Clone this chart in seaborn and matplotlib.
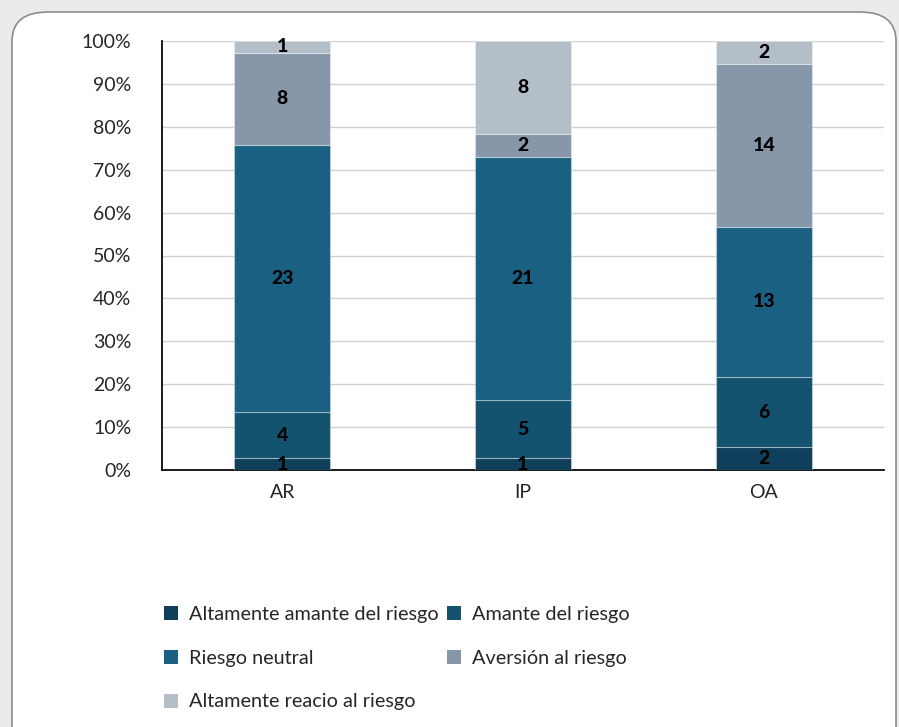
import numpy as np
import pandas as pd
import matplotlib
matplotlib.use("Agg")
import matplotlib.pyplot as plt
import seaborn as sns
from matplotlib.patches import FancyBboxPatch, Patch

categories = ["AR", "IP", "OA"]
series = ["Altamente amante del riesgo", "Amante del riesgo", "Riesgo neutral",
          "Aversión al riesgo", "Altamente reacio al riesgo"]
altamente_amante = [1, 1, 2]
amante = [4, 5, 6]
neutral = [23, 21, 13]
aversion = [8, 2, 14]
reacio = [1, 8, 2]
colors = ["#0f3f5a", "#14536f", "#1a6082", "#8597a9", "#b4bec9"]

counts = [altamente_amante, amante, neutral, aversion, reacio]
totals = np.sum(np.array(counts), axis=0)

sns.set_theme(style="white")
plt.rcParams['font.family'] = ['Lato', 'DejaVu Sans']

fig = plt.figure(figsize=(8.99, 7.27), dpi=100)
fig.patch.set_facecolor("#ebebeb")
box = FancyBboxPatch((12/899, -0.05), 884/899, 1 - 12/727 + 0.05,
                     boxstyle="round,pad=0,rounding_size=0.04",
                     transform=fig.transFigure, facecolor="white",
                     edgecolor="#8c8c8c", linewidth=1.2, zorder=-10)
fig.patches.append(box)

ax = fig.add_axes([162/899, 1 - 470/727, (884-162)/899, (470-41)/727])
ax.set_facecolor("none")

bottom = np.zeros(len(categories))
for name, vals, col in zip(series, counts, colors):
    pct = np.array(vals) / totals * 100
    df = pd.DataFrame({"cat": categories, "pct": pct})
    sns.barplot(data=df, x="cat", y="pct", color=col, bottom=bottom, width=0.4,
                ax=ax, saturation=1, edgecolor=(1, 1, 1, 0.35), linewidth=0.8,
                zorder=3)
    for i, (v, p) in enumerate(zip(vals, pct)):
        ax.text(i, bottom[i] + p / 2, str(v), ha="center", va="center",
                fontsize=14, fontweight="black", color="black", zorder=5)
    bottom = bottom + pct

ax.set_ylim(0, 100)
ax.set_xlim(-0.5, 2.5)
ax.set_yticks(np.arange(0, 101, 10))
ax.set_yticklabels([f"{t}%" for t in range(0, 101, 10)], fontsize=14)
ax.tick_params(axis="x", labelsize=14, pad=10, length=0)
ax.tick_params(axis="y", length=0, pad=22)
ax.set_xlabel("")
ax.set_ylabel("")
ax.yaxis.grid(True, color="#d0d0d0", linewidth=1, zorder=0)
ax.set_axisbelow(True)
for s in ["top", "right"]:
    ax.spines[s].set_visible(False)
ax.spines["left"].set_color("black")
ax.spines["bottom"].set_color("black")

handles = [Patch(facecolor=c, edgecolor="none") for c in colors]
order = [0, 2, 4, 1, 3]
leg = fig.legend([handles[i] for i in order], [series[i] for i in order],
                 loc="upper left", ncol=2,
                 bbox_to_anchor=(146/899, 1 - 588/727), frameon=False,
                 fontsize=14.3, handlelength=0.7, handleheight=0.7,
                 handletextpad=0.55, columnspacing=0.45, labelspacing=1.35)

fig.savefig("out.png", dpi=100, facecolor=fig.get_facecolor())
